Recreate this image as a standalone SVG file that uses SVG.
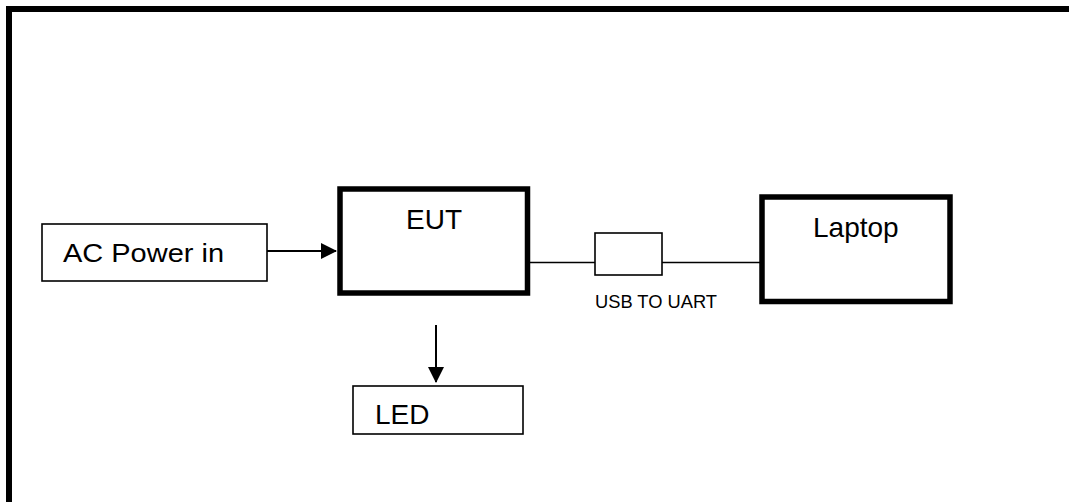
<svg xmlns="http://www.w3.org/2000/svg" width="1069" height="502" viewBox="0 0 1069 502">
<style>
text{font-family:"Liberation Sans",Arial,sans-serif;fill:#000}
.thin{fill:#fff;stroke:#000;stroke-width:1.6}
.thick{fill:#fff;stroke:#000;stroke-width:5.5}
.ln{stroke:#000;stroke-width:1.6;fill:none}
.ar{stroke:#000;stroke-width:2;fill:none}
</style>
<defs>
<marker id="ah" markerUnits="userSpaceOnUse" markerWidth="16" markerHeight="16" refX="15" refY="8" orient="auto" viewBox="0 0 16 16">
<path d="M0,0 L16,8 L0,16 Z" fill="#000"/>
</marker>
</defs>
<rect x="0" y="0" width="1069" height="502" fill="#fff"/>
<rect x="9" y="9" width="1100" height="560" fill="none" stroke="#000" stroke-width="6"/>
<g id="connectors">
<line class="ar" x1="267" y1="251" x2="336" y2="251" marker-end="url(#ah)"/>
<line class="ar" x1="436" y1="325" x2="436" y2="382" marker-end="url(#ah)"/>
<line class="ln" x1="530" y1="262.5" x2="595" y2="262.5"/>
<line class="ln" x1="662" y1="262.5" x2="762" y2="262.5"/>
</g>
<g id="ac-power">
<rect class="thin" x="42" y="224" width="225" height="57"/>
<text x="63" y="261.5" font-size="26" textLength="161" lengthAdjust="spacingAndGlyphs">AC Power in</text>
</g>
<g id="eut">
<rect class="thick" x="340" y="189" width="187.5" height="104"/>
<text x="406" y="228.5" font-size="28">EUT</text>
</g>
<g id="usb-to-uart">
<rect class="thin" x="595" y="233" width="67" height="42"/>
<text x="595" y="308" font-size="18" textLength="122" lengthAdjust="spacingAndGlyphs">USB TO UART</text>
</g>
<g id="laptop">
<rect class="thick" x="762" y="197" width="188" height="104.5"/>
<text x="813" y="237" font-size="28">Laptop</text>
</g>
<g id="led">
<rect class="thin" x="353" y="386" width="170" height="48"/>
<text x="375" y="423.5" font-size="28">LED</text>
</g>
</svg>
